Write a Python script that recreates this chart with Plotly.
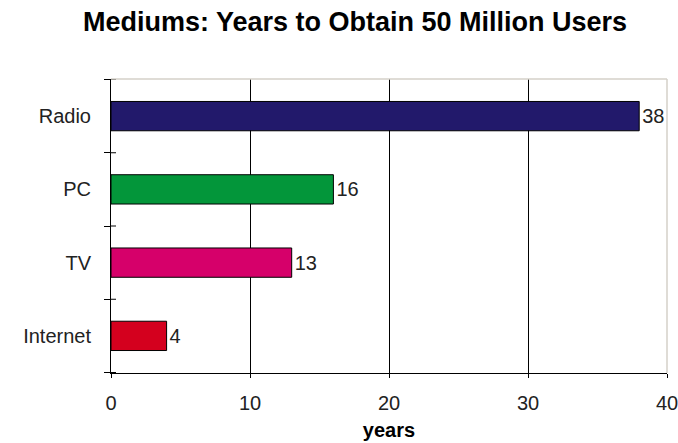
import plotly.graph_objects as go

categories = ["Internet", "TV", "PC", "Radio"]
years = [4, 13, 16, 38]
colors = ["#D4001E", "#D6006A", "#03963A", "#22196B"]
x_ticks = [0, 10, 20, 30, 40]

FONT = "Liberation Sans, Arial, sans-serif"

fig = go.Figure()
fig.add_trace(go.Bar(
    y=categories, x=years, orientation="h",
    marker=dict(color=colors, line=dict(color="#000000", width=1)),
    text=[str(v) for v in years], textposition="outside",
    textfont=dict(family=FONT, size=20, color="#222222"),
    cliponaxis=False,
))

# inner halves of the category-boundary tick marks on the y axis
boundaries = [i - 0.5 for i in range(len(categories) + 1)]
shapes = [
    dict(type="line", xref="paper", yref="y", x0=0, x1=0.009, y0=b, y1=b,
         line=dict(color="#000000", width=1), layer="above")
    for b in boundaries
]
shapes += [
    dict(type="line", xref="paper", yref="paper", x0=0, x1=1, y0=1, y1=1,
         line=dict(color="#D4D0C8", width=1.5), layer="above"),
    dict(type="line", xref="paper", yref="paper", x0=1, x1=1, y0=0, y1=1,
         line=dict(color="#D4D0C8", width=1.5), layer="above"),
]

fig.update_layout(
    width=678, height=443,
    margin=dict(l=111, r=11, t=79, b=70, autoexpand=False),
    paper_bgcolor="white", plot_bgcolor="white",
    bargap=0.6,
    showlegend=False,
    title=dict(
        text="<b>Mediums: Years to Obtain 50 Million Users</b>",
        x=0.5236, xanchor="center", y=0.952, yanchor="middle",
        font=dict(family=FONT, size=27, color="#000000"),
    ),
    xaxis=dict(
        range=[0, 40], tickvals=x_ticks, ticktext=[str(t) for t in x_ticks],
        showgrid=True, gridcolor="#000000", gridwidth=1,
        showline=True, linecolor="#000000", linewidth=1,
        ticks="outside", ticklen=4, tickcolor="#000000",
        zeroline=False, automargin=False,
        ticklabelstandoff=8, ticklabeloverflow="allow",
        tickfont=dict(family=FONT, size=20, color="#222222"),
        title=dict(text="<b>years</b>", standoff=9,
                   font=dict(family=FONT, size=20, color="#000000")),
    ),
    yaxis=dict(
        categoryorder="array", categoryarray=categories,
        showgrid=False, showline=True, linecolor="#000000", linewidth=1,
        ticks="outside", ticklen=6, tickcolor="#000000", tickson="boundaries",
        automargin=False, ticklabelstandoff=15,
        tickfont=dict(family=FONT, size=20, color="#222222"),
    ),
    shapes=shapes,
)

fig.write_html("out.html")
